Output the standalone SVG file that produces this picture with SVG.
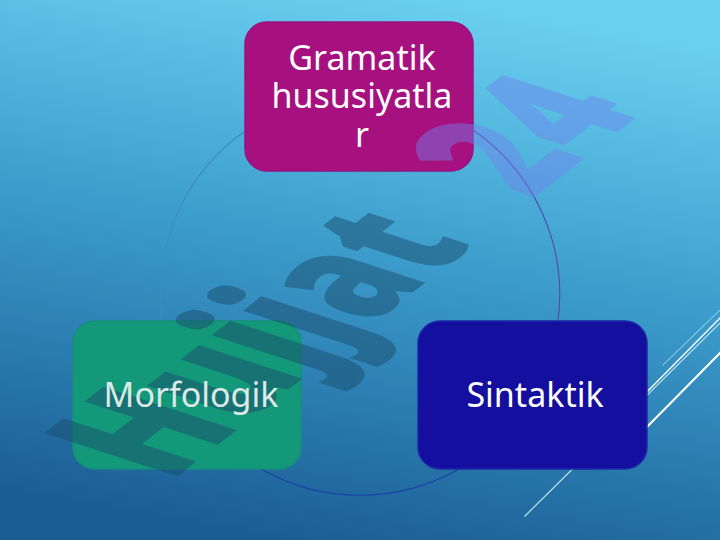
<svg xmlns="http://www.w3.org/2000/svg" width="720" height="540" viewBox="0 0 720 540">
  <defs>
    <linearGradient id="bg" x1="0.62" y1="0" x2="0.38" y2="1">
      <stop offset="0" stop-color="#6ad0f0"/>
      <stop offset="0.45" stop-color="#3d9ecd"/>
      <stop offset="1" stop-color="#1a5d95"/>
    </linearGradient>
    <style>
      .box { stroke-width: 1.5; }
      .lbl { font-family: "Noto Sans", "Open Sans", sans-serif; font-size: 34px; fill: #ffffff; text-anchor: middle; }
      .arc { fill: none; stroke-width: 1.1; }
      .deco { stroke-linecap: round; }
      .wm { font-family: "Open Sans", "DejaVu Sans", sans-serif; font-weight: 800; font-size: 100px; }
    </style>
  </defs>

  <rect width="720" height="540" fill="url(#bg)"/>

  <g id="decor" class="deco">
    <line x1="663" y1="365" x2="722" y2="308" stroke="#a6dcf2" stroke-width="1"/>
    <line x1="640" y1="399" x2="722" y2="316" stroke="#ffffff" stroke-width="1.4"/>
    <line x1="525" y1="516" x2="722" y2="321" stroke="#bde8f8" stroke-width="1.2"/>
    <line x1="640" y1="434" x2="722" y2="351" stroke="#ffffff" stroke-width="2"/>
  </g>

  <g id="connectors">
    <path class="arc" d="M 245 131 A 200 200 0 0 0 162 321" stroke="#3a8dc2"/>
    <path class="arc" d="M 473 130 A 200 200 0 0 1 558 321" stroke="#5a48a8"/>
    <path class="arc" d="M 459 469 A 200 200 0 0 1 261 469" stroke="#1c3fa6"/>
  </g>

  <g id="node-gramatik">
    <rect class="box" x="245" y="22" width="228" height="149" rx="22" fill="#a7117f" stroke="#9a1280"/>
  </g>
  <g id="node-morfologik">
    <rect class="box" x="73" y="321" width="228" height="148" rx="22" fill="#14987a" stroke="#14907a"/>
  </g>
  <g id="node-sintaktik">
    <rect class="box" x="418" y="321" width="229" height="148" rx="22" fill="#140f9f" stroke="#1a2aa6"/>
  </g>

  <g id="watermark">
    <text class="wm" transform="matrix(0.965 -0.754 1.864 0.606 170 482)"><tspan fill="#1a4d6b" fill-opacity="0.5">Hujjat</tspan><tspan fill="#7080f0" fill-opacity="0.45" dx="58">24</tspan></text>
  </g>

  <g id="labels">
    <text class="lbl" x="362" y="70" font-size="33">Gramatik</text>
    <text class="lbl" x="362" y="108" font-size="33">hususiyatla</text>
    <text class="lbl" x="362" y="147" font-size="33">r</text>
    <text class="lbl" x="191" y="407" style="fill:#dde9e6">Morfologik</text>
    <text class="lbl" x="535" y="407">Sintaktik</text>
  </g>
</svg>
